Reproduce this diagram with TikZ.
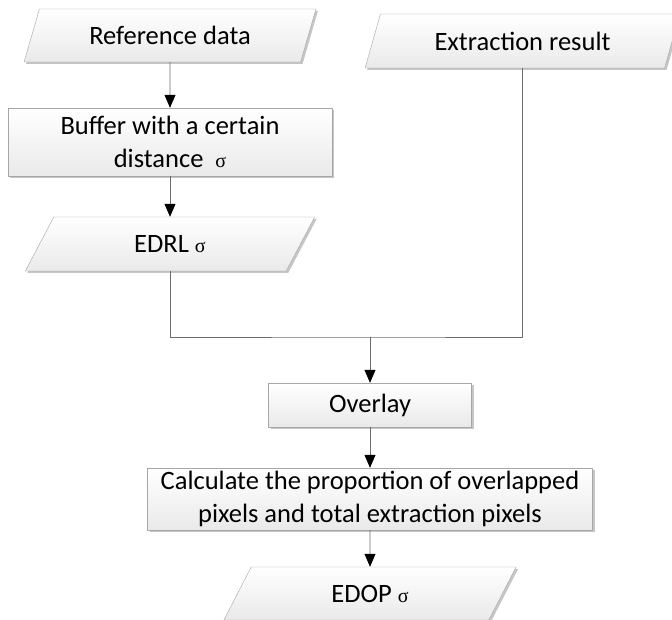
\documentclass[tikz,border=0pt]{standalone}
\usepackage{fontspec}
\setmainfont{Carlito}
\newfontfamily\sigfont{Liberation Serif}
\newcommand{\sig}{{\sigfont\fontsize{20}{20}\selectfont σ}}
\usetikzlibrary{shapes.geometric,arrows.meta,shadows}

\begin{document}
\begin{tikzpicture}[x=1pt,y=-1pt, font=\fontsize{26.5}{33}\selectfont, line join=round, line cap=round,
    >={Triangle[length=13pt,width=11pt,black]},
    box/.style={draw=gray!70, top color=white, bottom color=gray!17, inner sep=0pt, align=center,
      drop shadow={shadow xshift=2pt, shadow yshift=-2pt, fill=gray!45, opacity=1}},
    para/.style={box, trapezium, trapezium left angle=63, trapezium right angle=117,
      trapezium stretches=true, minimum height=53pt},
    link/.style={draw=gray!85!black, line width=0.8pt}]
  \useasboundingbox[fill=white] (0,0) rectangle (672,620);
  \node[para, minimum width=292pt] (ref) at (170,35.5) {Reference data};
  \node[box, minimum width=324pt, minimum height=68pt] (buf) at (170,142) {Buffer with a certain\\distance\hspace{0.45em}\sig};
  \node[para, minimum width=290pt, minimum height=54pt] (edrl) at (170,244) {EDRL \sig};
  \node[para, minimum width=315pt, minimum height=54pt] (extr) at (522.5,41) {Extraction result};
  \node[box, minimum width=203pt, minimum height=44pt] (ovl) at (370,405) {Overlay};
  \node[box, minimum width=445pt, minimum height=62pt] (calc) at (370,499) {Calculate the proportion of overlapped\\pixels and total extraction pixels};
  \node[para, minimum width=293pt] (edop) at (370,593.5) {EDOP \sig};
  \coordinate (join) at (370,337);
  \draw[link,->] (ref) -- (buf);
  \draw[link,->] (buf) -- (edrl);
  \draw[link] (edrl.south) |- (join) -| (extr.south);
  \draw[link,->] (join) -- (ovl);
  \draw[link,->] (ovl) -- (calc);
  \draw[link,->] (calc) -- (edop);
\end{tikzpicture}
\end{document}
